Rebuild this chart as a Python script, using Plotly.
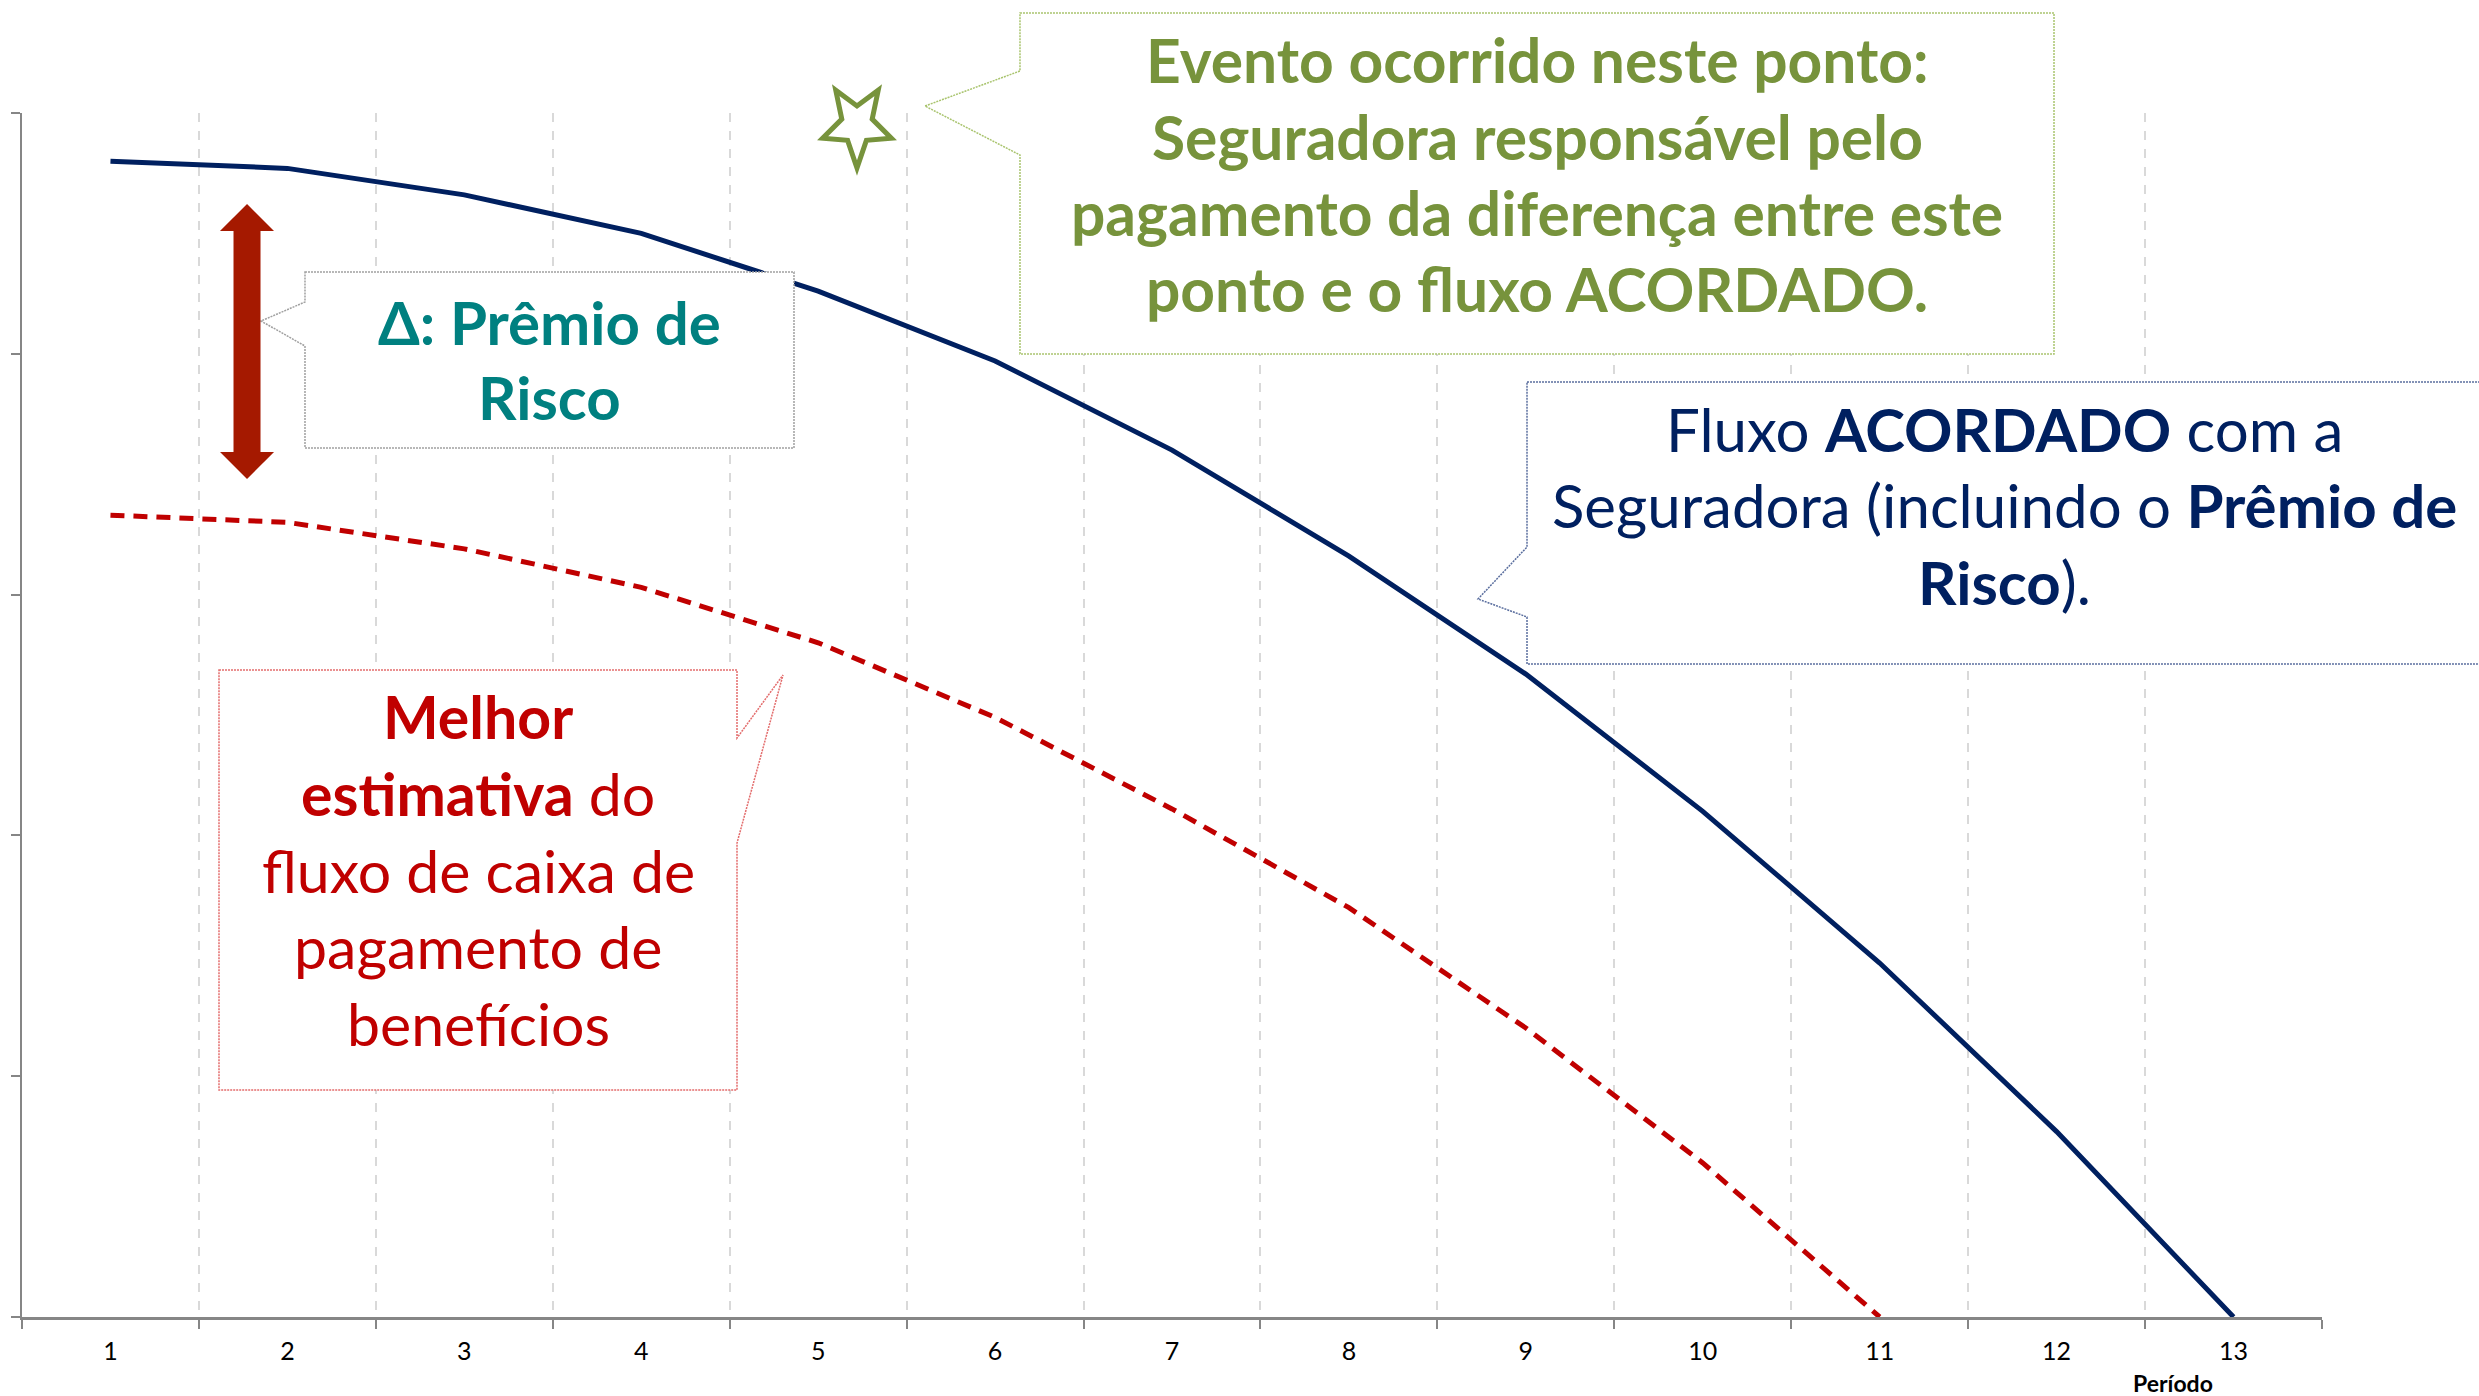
import math
import plotly.graph_objects as go

# ---------------- data ----------------
periods = [str(i) for i in range(1, 14)]
fluxo_acordado = [4.80, 4.77, 4.66, 4.50, 4.26, 3.97, 3.60, 3.16, 2.67, 2.10, 1.47, 0.77, 0.0]
melhor_estimativa = [3.33, 3.30, 3.19, 3.03, 2.80, 2.49, 2.11, 1.70, 1.20, 0.64, 0.0]
y_tick_values = [0, 1, 2, 3, 4, 5]
x_title = "Período"

green_lines = ["Evento ocorrido neste ponto:",
               "Seguradora responsável pelo",
               "pagamento da diferença entre este",
               "ponto e o fluxo ACORDADO."]
delta_lines = ["Δ: Prêmio de", "Risco"]
blue_lines = ["Fluxo <b>ACORDADO</b> com a",
              "Seguradora (incluindo o <b>Prêmio de</b>",
              "<b>Risco</b>)."]
red_lines = ["<b>Melhor</b>", "<b>estimativa</b> do", "fluxo de caixa de",
             "pagamento de", "benefícios"]

# ---------------- colours ----------------
NAVY = "#002060"
RED = "#C00000"
GREEN = "#77933C"
TEAL = "#008080"
ARROW = "#A51900"
AXIS = "#868686"
GRID = "#D9D9D9"
FONT = "Lato, 'Open Sans', sans-serif"

# ---------------- layout geometry ----------------
W, H = 2479, 1396
ML, MR, MT, MB = 22, 157, 113, 79
PW = W - ML - MR
PH = H - MT - MB


def px(x):
    return (x - ML) / PW


def py(y):
    return (MT + PH - y) / PH


def path(points):
    return "M " + " L ".join(f"{px(x):.5f},{py(y):.5f}" for x, y in points) + " Z"


fig = go.Figure()

fig.add_trace(go.Scatter(
    x=periods, y=fluxo_acordado, mode="lines",
    line=dict(color=NAVY, width=5), hoverinfo="skip", showlegend=False))
fig.add_trace(go.Scatter(
    x=periods[:len(melhor_estimativa)], y=melhor_estimativa, mode="lines",
    line=dict(color=RED, width=5, dash="14px,9px"), hoverinfo="skip", showlegend=False))

DOT = "2px,1px"
shapes = []
# green callout
shapes.append(dict(type="path", xref="paper", yref="paper", layer="above",
                   path=path([(1020, 13), (2054, 13), (2054, 354), (1020, 354), (1020, 155),
                              (925, 106), (1020, 71)]),
                   fillcolor="white", line=dict(color="#A9C46E", width=1.5, dash=DOT)))
# delta callout
shapes.append(dict(type="path", xref="paper", yref="paper", layer="above",
                   path=path([(305, 272), (794, 272), (794, 448), (305, 448), (305, 346),
                              (261, 321), (305, 302)]),
                   fillcolor="white", line=dict(color="#A0A0A0", width=1.5, dash=DOT)))
# blue callout
shapes.append(dict(type="path", xref="paper", yref="paper", layer="above",
                   path=path([(1527, 382), (2490, 382), (2490, 664), (1527, 664), (1527, 617),
                              (1478, 599), (1527, 547)]),
                   fillcolor="white", line=dict(color="#5A6E9E", width=1.5, dash=DOT)))
# red callout
shapes.append(dict(type="path", xref="paper", yref="paper", layer="above",
                   path=path([(219, 670), (737, 670), (737, 738), (783, 675), (737, 843),
                              (737, 1090), (219, 1090)]),
                   fillcolor="white", line=dict(color="#E36C6C", width=1.5, dash=DOT)))
# double arrow
shapes.append(dict(type="path", xref="paper", yref="paper", layer="above",
                   path=path([(247, 204), (274, 231), (260.5, 231), (260.5, 452), (274, 452),
                              (247, 479), (220, 452), (233.5, 452), (233.5, 231), (220, 231)]),
                   fillcolor=ARROW, line=dict(width=0)))
# inverted star
cx, cy, R, r, sx = 857, 125, 43, 19, 0.84
star = []
for k in range(10):
    a = math.radians(36 * k)
    rad = R if k % 2 == 0 else r
    star.append((cx + sx * rad * math.sin(a), cy + rad * math.cos(a)))
shapes.append(dict(type="path", xref="paper", yref="paper", layer="above",
                   path=path(star), fillcolor="white", line=dict(color=GREEN, width=5)))

annotations = []


def add_lines(lines, cx_, baselines, color, size, bold=False):
    for t, b in zip(lines, baselines):
        txt = f"<b>{t}</b>" if bold else t
        annotations.append(dict(
            x=px(cx_), y=py(b - 0.387 * size), xref="paper", yref="paper",
            xanchor="center", yanchor="middle", showarrow=False, text=txt,
            font=dict(family=FONT, size=size, color=color)))


add_lines(green_lines, 1537, [83, 160, 236, 312], GREEN, 60.5, bold=True)
add_lines(delta_lines, 549, [345, 420], TEAL, 60, bold=True)
add_lines(blue_lines, 2004, [452, 528, 605], NAVY, 60)
add_lines(red_lines, 478, [739, 816, 893, 969, 1046], RED, 59)

annotations.append(dict(
    x=px(2173), y=py(1392 - 0.387 * 23), xref="paper", yref="paper",
    xanchor="center", yanchor="middle", showarrow=False,
    text=f"<b>{x_title}</b>", font=dict(family=FONT, size=23, color="#000000")))

fig.update_layout(
    width=W, height=H, template="none",
    margin=dict(l=ML, r=MR, t=MT, b=MB, pad=0),
    paper_bgcolor="white", plot_bgcolor="white",
    showlegend=False, shapes=shapes, annotations=annotations,
    font=dict(family=FONT, color="#000000"),
)
fig.update_xaxes(
    type="category", categoryorder="array", categoryarray=periods,
    range=[-0.5, len(periods) - 0.5], tickson="boundaries",
    showgrid=True, gridcolor=GRID, gridwidth=2, griddash="dash",
    showline=True, linecolor=AXIS, linewidth=2.5,
    ticks="outside", ticklen=9, tickwidth=2, tickcolor=AXIS,
    tickfont=dict(family=FONT, size=25, color="#000000"),
    ticklabelstandoff=10, zeroline=False, automargin=False, fixedrange=True)
fig.update_yaxes(
    range=[0, 5], tickmode="array", tickvals=y_tick_values,
    showgrid=False, zeroline=False, showticklabels=False,
    showline=True, linecolor=AXIS, linewidth=2,
    ticks="outside", ticklen=9, tickwidth=2, tickcolor=AXIS,
    automargin=False, fixedrange=True)

fig.write_html("out.html")
